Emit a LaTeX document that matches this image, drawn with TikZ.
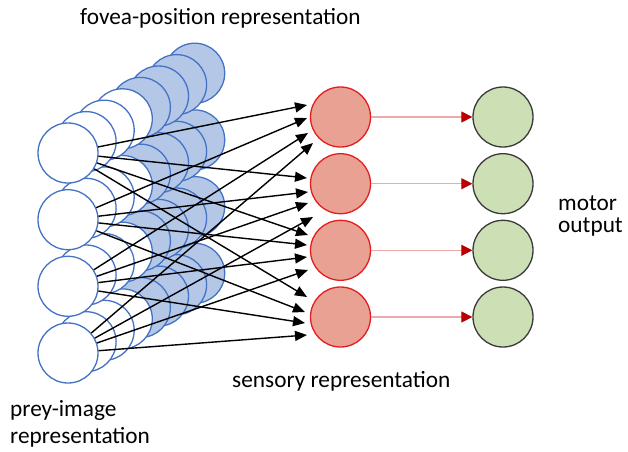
\documentclass[tikz,border=0pt]{standalone}
\usepackage{fontspec}
\setmainfont{Carlito}
\usetikzlibrary{arrows.meta}
\definecolor{stackblue}{HTML}{4472C4}
\definecolor{stackfill}{HTML}{B4C7E7}
\definecolor{sensfill}{HTML}{E8A192}
\definecolor{sensline}{HTML}{E41E1E}
\definecolor{motfill}{HTML}{CDDFB5}
\definecolor{motline}{HTML}{3A3A3A}
\definecolor{linkline}{HTML}{ECABAB}
\definecolor{linkhead}{HTML}{B80000}
\begin{document}
\begin{tikzpicture}[x=1pt,y=-1pt,
  unit/.style={circle,minimum size=60pt,inner sep=0pt,line width=1.3pt},
  prey/.style={unit,draw=stackblue,fill=white},
  sens/.style={unit,draw=sensline,fill=sensfill},
  motor/.style={unit,draw=motline,fill=motfill},
  backwhite/.style={draw=stackblue,fill=white,line width=1.3pt},
  backblue/.style={draw=stackblue,fill=stackfill,line width=1.3pt},
  feed/.style={line width=1.4pt,-{Triangle[length=12pt,width=10pt]}},
  relay/.style={draw=linkline,line width=1.2pt,-{Triangle[length=11pt,width=11pt,color=linkhead]}},
  caption/.style={font=\fontsize{23.3}{26}\selectfont,anchor=base west,inner sep=0pt}
]
\useasboundingbox (0,0) rectangle (628,451);

% stacked copies of the prey-image column, drawn from the back forwards
\foreach \d in {7,6,...,1}{
  \foreach \k in {0,1,2,3}{
    \ifnum\d>3
      \draw[backblue] ({68+18.1*\d},{153+66.7*\k-11.4*\d}) circle (30pt);
    \else
      \draw[backwhite] ({68+18.1*\d},{153+66.7*\k-11.4*\d}) circle (30pt);
    \fi
  }
}

% front column: prey-image units
\node[prey] (p1) at (68,153) {};
\node[prey] (p2) at (68,219.7) {};
\node[prey] (p3) at (68,286.3) {};
\node[prey] (p4) at (68,353) {};

% sensory units
\node[sens] (s1) at (340.5,117) {};
\node[sens] (s2) at (340.5,183.7) {};
\node[sens] (s3) at (340.5,250.3) {};
\node[sens] (s4) at (340.5,317) {};

% motor units
\node[motor] (m1) at (503,117) {};
\node[motor] (m2) at (503,183.7) {};
\node[motor] (m3) at (503,250.3) {};
\node[motor] (m4) at (503,317) {};

% arrow tips in front of each sensory unit
\coordinate (e11) at (307,105);
\coordinate (e21) at (307,118);
\coordinate (e31) at (308,133);
\coordinate (e41) at (313,143);
\coordinate (e12) at (307,178);
\coordinate (e22) at (308,192);
\coordinate (e32) at (308,203);
\coordinate (e42) at (313,217);
\coordinate (e13) at (308,235);
\coordinate (e23) at (307,245);
\coordinate (e33) at (307,257);
\coordinate (e43) at (308,270);
\coordinate (e14) at (307,297);
\coordinate (e24) at (305,312);
\coordinate (e34) at (305,323);
\coordinate (e44) at (307,335);

% all-to-all projections
\foreach \i in {1,2,3,4}{
  \foreach \j in {1,2,3,4}{
    \draw[feed] (p\i) -- (e\i\j);
  }
}

% one-to-one sensory to motor links
\foreach \j in {1,2,3,4}{
  \draw[relay] (s\j) -- (m\j);
}

% labels
\node[caption] (lfov) at (80,24) {fovea-position representation};
\node[caption] (lsens) at (232,387.5) {sensory representation};
\node[caption] (lprey1) at (10,416) {prey-image};
\node[caption] (lprey2) at (10,443) {representation};
\node[caption] (lmot1) at (558,210) {motor};
\node[caption] (lmot2) at (558,232) {output};
\end{tikzpicture}
\end{document}
